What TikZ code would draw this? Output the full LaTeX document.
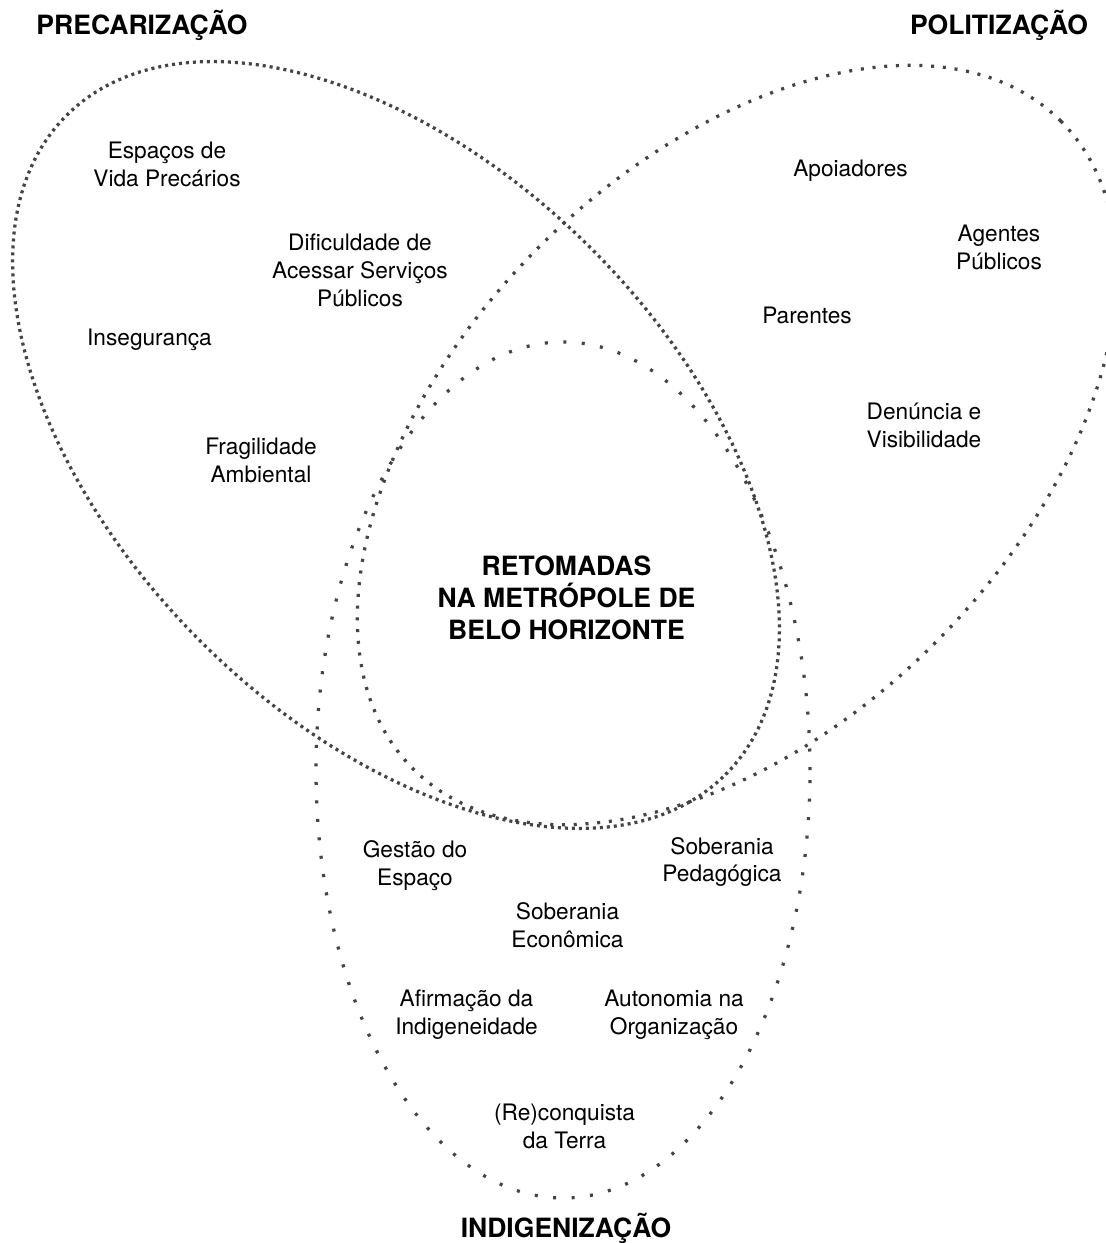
\documentclass[tikz,border=0pt]{standalone}
\usepackage{fontspec}
\setmainfont{TeX Gyre Heros}
\usetikzlibrary{shapes.geometric}

\definecolor{dotgray}{RGB}{68,68,68}

\begin{document}
\begin{tikzpicture}[x=0.2mm, y=0.2mm,
      every node/.append style={align=center, font=\fontsize{12.9}{15.9}\selectfont},
      heading/.style={font=\fontsize{15.1}{18.2}\selectfont\bfseries},
      ring/.style={draw=dotgray, line width=0.65mm, ellipse, inner sep=0pt},
      dense/.style={ring, dash pattern=on 0.6mm off 0.8mm},
      medium/.style={ring, dash pattern=on 0.6mm off 1.75mm},
      sparse/.style={ring, dash pattern=on 0.6mm off 3.1mm}]
    \fill[white] (0,0) rectangle (1105,-1243);
    \useasboundingbox (0,0) rectangle (1105,-1243);

    % the three sets
    \node (precarizacao) [dense, minimum width=186.4mm, minimum height=110.8mm, rotate=-45] at (396,-445) {};
    \node (politizacao) [medium, minimum width=183.2mm, minimum height=112mm, rotate=45] at (737,-445) {};
    \node (indigenizacao) [sparse, minimum width=98.8mm, minimum height=171.2mm] at (563,-770) {};

    % headings
    \node (tprec) [heading, anchor=base] at (142,-35) {PRECARIZAÇÃO};
    \node (tpol) [heading, anchor=base] at (999,-35) {POLITIZAÇÃO};
    \node (tind) [heading, anchor=base] at (566,-1237) {INDIGENIZAÇÃO};
    \node (retomadas) [heading] at (566.5,-598) {RETOMADAS\\NA METRÓPOLE DE\\BELO HORIZONTE};

    % precarizacao
    \node (espacos) at (167,-164) {Espaços de\\Vida Precários};
    \node (dificuldade) at (360,-270) {Dificuldade de\\Acessar Serviços\\Públicos};
    \node (inseguranca) at (149.5,-340) {Insegurança};
    \node (fragilidade) at (261,-460) {Fragilidade\\Ambiental};

    % politizacao
    \node (apoiadores) at (850.5,-171) {Apoiadores};
    \node (agentes) at (999,-247) {Agentes\\Públicos};
    \node (parentes) at (807,-315) {Parentes};
    \node (denuncia) at (924,-425) {Denúncia e\\Visibilidade};

    % indigenizacao
    \node (gestao) at (415,-866) {Gestão do\\Espaço};
    \node (pedagogica) at (722,-862) {Soberania\\Pedagógica};
    \node (economica) at (567.5,-925) {Soberania\\Econômica};
    \node (afirmacao) at (466.5,-1015) {Afirmação da\\Indigeneidade};
    \node (autonomia) at (674,-1015) {Autonomia na\\Organização};
    \node (reconquista) at (564.5,-1126) {(Re)conquista\\da Terra};
\end{tikzpicture}
\end{document}
